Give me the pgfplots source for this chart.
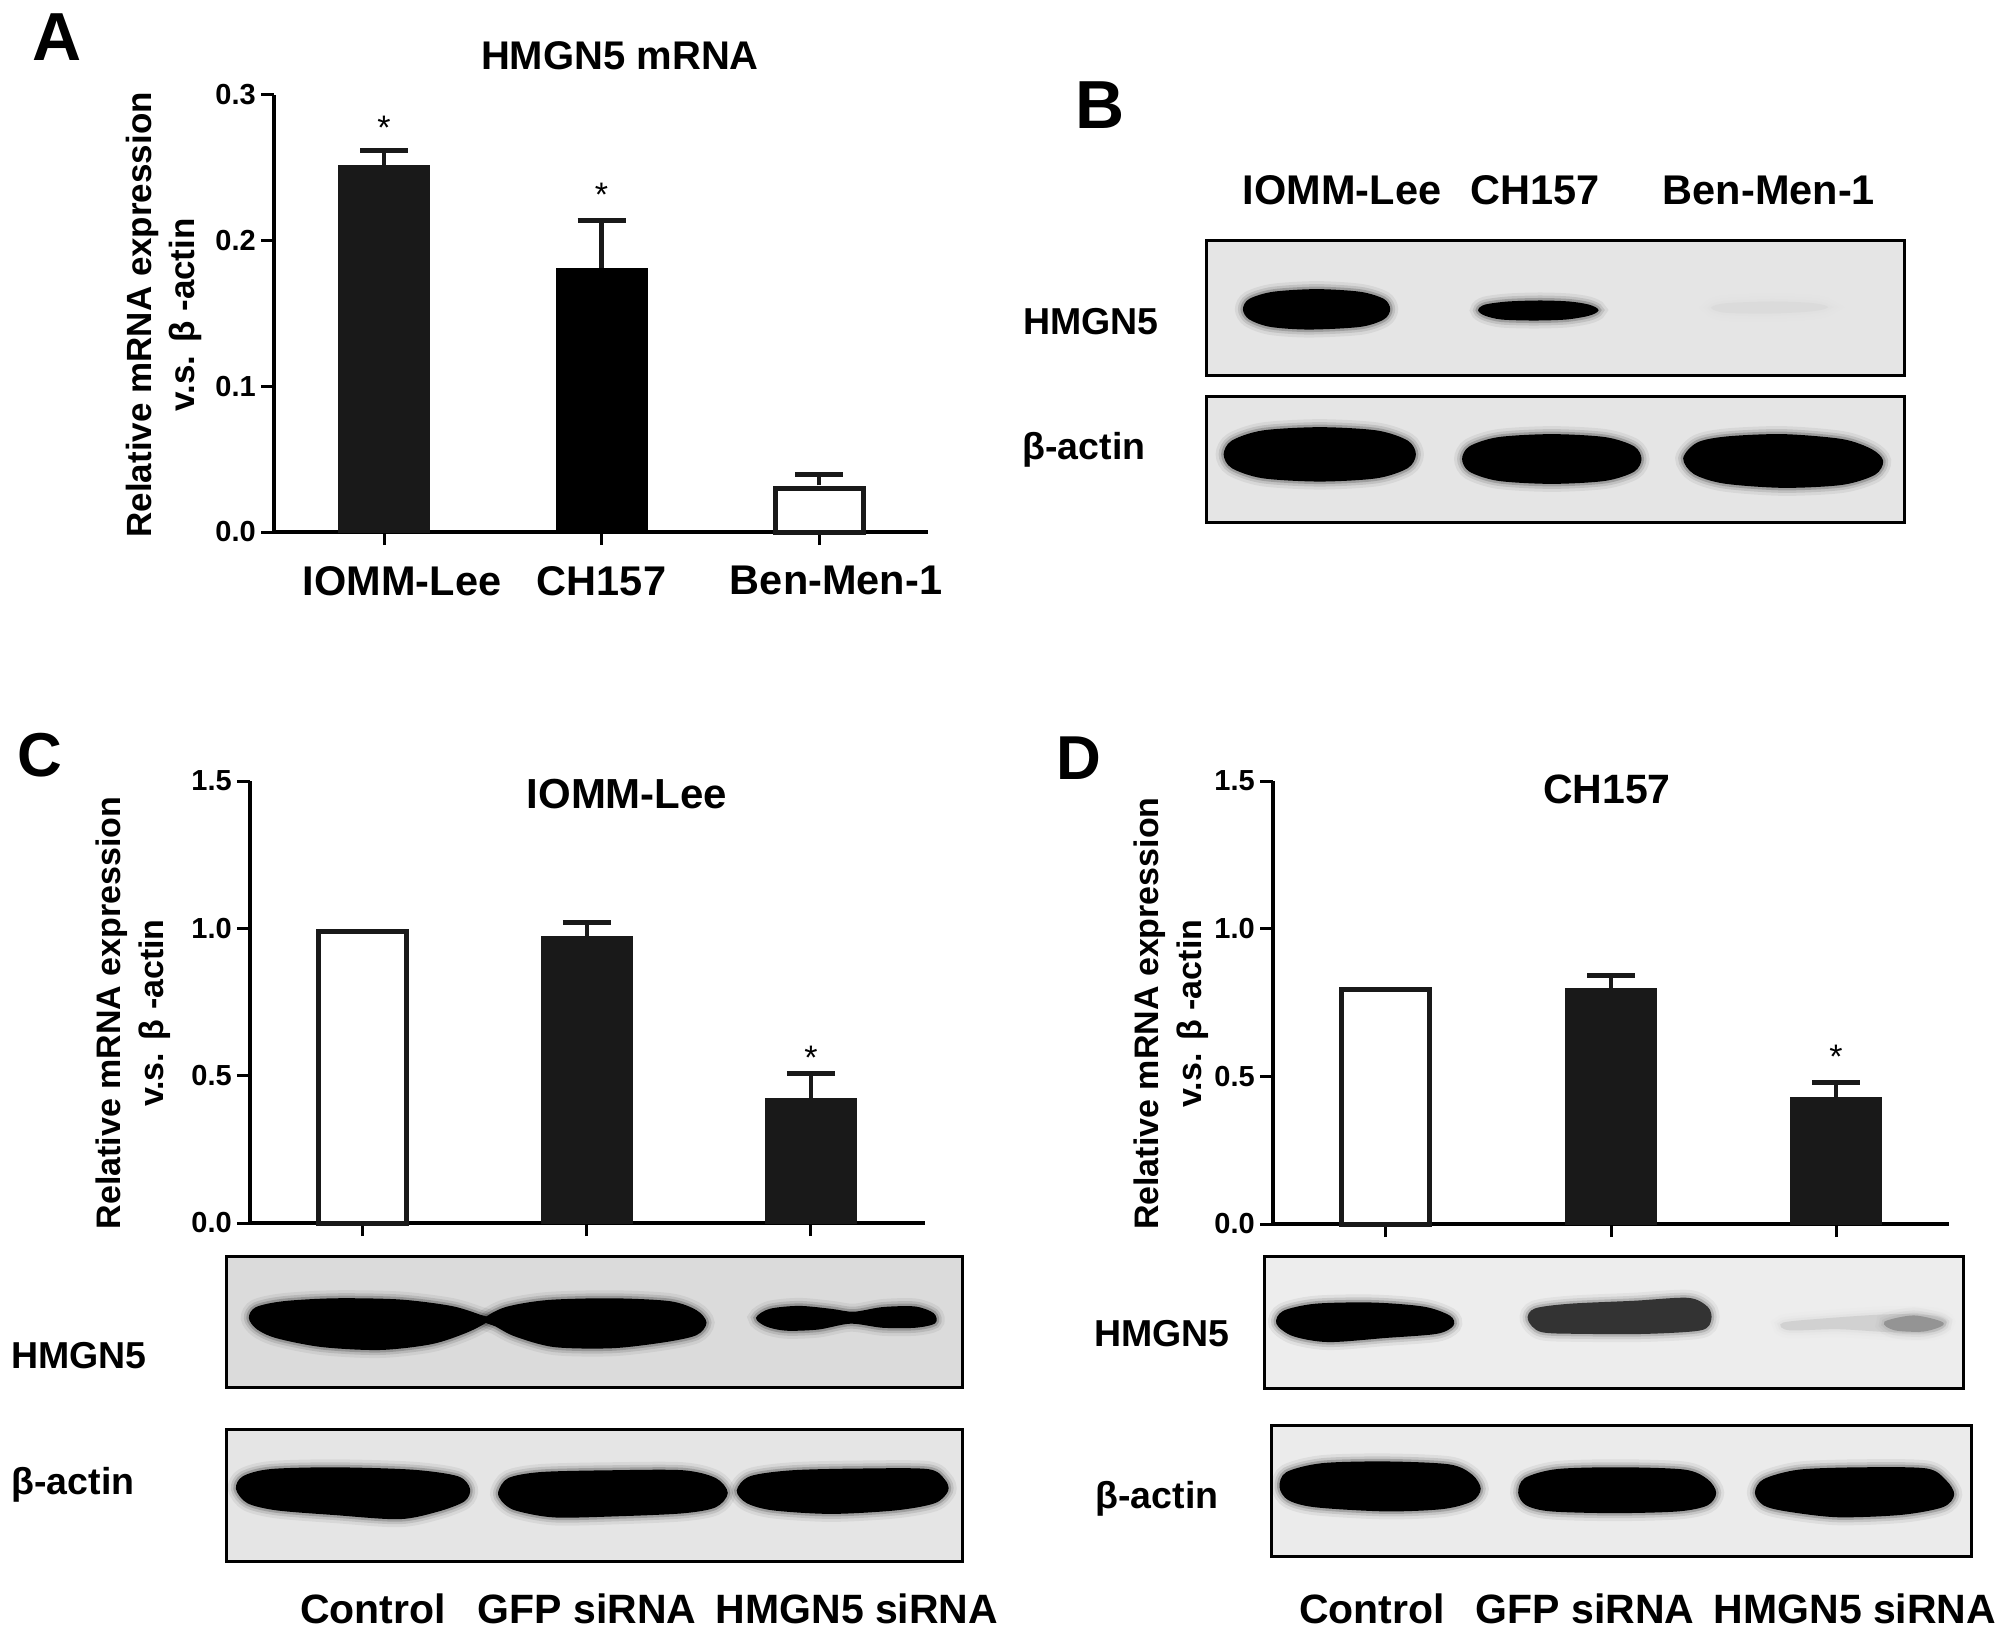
\documentclass[border=0pt]{standalone}
\usepackage{fontspec}
\setmainfont{Liberation Sans}
\usepackage{pgfplots}
\pgfplotsset{compat=1.18}

% bars: value and upper error
\newcommand\fs[1]{\fontsize{#1}{#1}\selectfont\bfseries}
\newcommand\barblack[3]{\addplot[ybar,bar width=91pt,bar shift=0pt,draw=#3,fill=#3,line width=1pt,
  error bars/.cd,y dir=plus,y explicit,error bar style={line width=4.5pt,black!90},
  error mark options={rotate=90,mark size=24pt,line width=5pt,black!90}] coordinates {#1 +- (0,#2)};}
\newcommand\barwhite[1]{\addplot[ybar,bar width=88pt,bar shift=0pt,draw=black!90,fill=white,line width=5pt] coordinates {#1};}
% western blot band with a soft edge
\newcommand\band[2][black]{%
  \addplot[smooth cycle,no markers,draw=#1,opacity=.06,line width=18pt] coordinates {#2};
  \addplot[smooth cycle,no markers,draw=#1,opacity=.10,line width=12pt] coordinates {#2};
  \addplot[smooth cycle,no markers,draw=#1,opacity=.18,line width=7pt] coordinates {#2};
  \addplot[smooth cycle,no markers,draw=#1,fill=#1,line width=2pt] coordinates {#2};}

\pgfplotsset{
  chart/.style={
    scale only axis,anchor=south west,clip=false,enlargelimits=false,
    axis x line=bottom,axis y line=left,
    axis line style={-,line width=3.5pt,black},
    tick style={black,line width=3pt},major tick length=13pt,tick align=outside,
    xtick={0,1,2},ymin=0,
    /pgf/number format/assume math mode=true,
    /pgf/number format/fixed,/pgf/number format/fixed zerofill,/pgf/number format/precision=1,
    yticklabel style={font=\fs{29},inner sep=0pt,xshift=-5pt},
    xticklabel style={font=\fs{41.5},inner sep=0pt},
  },
  blot/.style={
    scale only axis,anchor=south west,enlargelimits=false,y dir=reverse,
    xtick=\empty,ytick=\empty,axis on top,
    axis line style={line width=3pt,black},
  },
}
\begin{document}
\begin{tikzpicture}[x=1pt,y=-1pt]
\useasboundingbox (0,0) rectangle (2008,1637);

% A
\begin{axis}[chart,at={(274pt,-532pt)},width=654pt,height=437pt,
  axis line style={-,line width=4.5pt,black},
  xmin=-0.506,xmax=2.501,ymax=0.3,ytick={0,0.1,0.2,0.3},
  xticklabels={\hspace*{36pt}IOMM-Lee,CH157,\hspace*{34pt}Ben-Men-1},
  xticklabel style={yshift=-21pt},
  title={HMGN5 mRNA},
  title style={at={(axis description cs:0.529,1.075)},anchor=center,font=\fs{40},inner sep=0pt},
  ylabel={Relative mRNA expression\\v.s. β -actin},
  every axis y label/.style={at={(axis description cs:-0.168,0.497)},rotate=90,anchor=center,align=center,font=\fontsize{35}{43}\selectfont\bfseries,inner sep=0pt},
]
\barblack{(0,0.2513)}{0.0108}{black!90}
\barblack{(1,0.1812)}{0.0327}{black}
\barwhite{(2,0.0300)}
\addplot[ybar,bar width=88pt,bar shift=0pt,draw=none,fill=none,
  error bars/.cd,y dir=plus,y explicit,error bar style={line width=4.5pt,black!90},
  error mark options={rotate=90,mark size=24pt,line width=5pt,black!90}] coordinates {(2,0.0320) +- (0,0.0075)};
\node[font=\fontsize{34}{34}\selectfont,inner sep=0pt] at (axis cs:0,0.2776) {*};
\node[font=\fontsize{34}{34}\selectfont,inner sep=0pt] at (axis cs:1,0.2318) {*};
\end{axis}

% B
\begin{axis}[blot,at={(1206pt,-375pt)},width=698pt,height=135pt,
  xmin=320,xmax=1406,ymin=541,ymax=945,axis background/.style={fill=black!10}]
\band{(605,748)(596,776)(560,798)(480,806)(420,798)(388,776)(379,748)(388,720)(424,699)(492,691)(560,699)(596,720)}
\band{(929,751)(915,765)(880,776)(830,779)(780,776)(755,765)(745,751)(755,737)(790,728)(840,725)(885,728)(915,737)}
\band[black!14]{(1285,742)(1260,752)(1200,758)(1130,756)(1108,744)(1130,733)(1200,728)(1260,732)}
\end{axis}
\begin{axis}[blot,at={(1206pt,-522pt)},width=698pt,height=126pt,
  xmin=320,xmax=1406,ymin=1007,ymax=1387,axis background/.style={fill=black!10}]
\band{(645,1183)(633,1222)(586,1252)(497,1262)(408,1252)(361,1222)(349,1183)(361,1144)(408,1114)(497,1104)(586,1114)(633,1144)}
\band{(996,1197)(985,1233)(941,1260)(858,1269)(775,1260)(731,1233)(720,1197)(731,1161)(775,1134)(858,1125)(941,1134)(985,1161)}
\band{(1372,1203)(1360,1242)(1310,1272)(1218,1281)(1126,1268)(1080,1240)(1064,1195)(1085,1150)(1130,1132)(1218,1125)(1310,1140)(1355,1170)}
\end{axis}

% C
\begin{axis}[chart,at={(250pt,-1223pt)},width=675pt,height=442pt,
  xmin=-0.504,xmax=2.509,ymax=1.5,ytick={0,0.5,1,1.5},xticklabels={},
  title={IOMM-Lee},
  title style={at={(axis description cs:0.5585,0.958)},anchor=center,font=\fs{42},inner sep=0pt},
  ylabel={Relative mRNA expression\\v.s. β -actin},
  every axis y label/.style={at={(axis description cs:-0.173,0.475)},rotate=90,anchor=center,align=center,font=\fontsize{34}{43}\selectfont\bfseries,inner sep=0pt},
]
\barwhite{(0,0.99)}
\barblack{(1,0.9735)}{0.0455}{black!90}
\barblack{(2,0.4210)}{0.0876}{black!90}
\node[font=\fontsize{34}{34}\selectfont,inner sep=0pt] at (axis cs:2,0.56) {*};
\end{axis}
\begin{axis}[blot,at={(226pt,-1387pt)},width=736pt,height=131pt,
  xmin=351,xmax=1493,ymin=916,ymax=1140,axis background/.style={fill=black!14}]
\band{(388,1022)(398,1005)(440,995)(520,990)(620,992)(700,1003)(745,1018)(758,1025)(725,1045)(670,1065)(590,1075)(500,1070)(430,1055)(400,1040)}
\band{(752,1025)(785,1005)(850,993)(950,990)(1040,995)(1080,1010)(1095,1030)(1080,1050)(1030,1062)(950,1072)(860,1070)(800,1052)(770,1035)}
\band{(1175,1022)(1195,1008)(1240,1003)(1290,1008)(1325,1013)(1370,1005)(1420,1004)(1448,1015)(1450,1030)(1420,1037)(1370,1037)(1320,1030)(1270,1040)(1220,1042)(1190,1035)}
\end{axis}
\begin{axis}[blot,at={(226pt,-1561pt)},width=736pt,height=132pt,
  xmin=351,xmax=1493,ymin=1213,ymax=1438,axis background/.style={fill=black!10}]
\band{(368,1315)(378,1295)(420,1283)(520,1280)(640,1284)(710,1295)(728,1315)(720,1335)(680,1352)(620,1365)(520,1358)(430,1350)(385,1338)}
\band{(775,1320)(790,1298)(840,1288)(950,1285)(1060,1285)(1110,1298)(1128,1322)(1110,1345)(1060,1355)(960,1360)(860,1362)(800,1350)(780,1335)}
\band{(1145,1318)(1165,1295)(1230,1285)(1340,1282)(1440,1283)(1465,1300)(1470,1318)(1450,1338)(1390,1350)(1290,1356)(1200,1350)(1160,1338)}
\end{axis}

% D
\begin{axis}[chart,at={(1273pt,-1224pt)},width=676pt,height=443pt,
  xmin=-0.502,xmax=2.502,ymax=1.5,ytick={0,0.5,1,1.5},xticklabels={},
  title={CH157},
  title style={at={(axis description cs:0.494,0.967)},anchor=center,font=\fs{41},inner sep=0pt},
  ylabel={Relative mRNA expression\\v.s. β -actin},
  every axis y label/.style={at={(axis description cs:-0.151,0.475)},rotate=90,anchor=center,align=center,font=\fontsize{34}{43}\selectfont\bfseries,inner sep=0pt},
]
\barwhite{(0,0.795)}
\barblack{(1,0.7966)}{0.0434}{black!90}
\barblack{(2,0.4300)}{0.0475}{black!90}
\node[font=\fontsize{34}{34}\selectfont,inner sep=0pt] at (axis cs:2,0.565) {*};
\end{axis}
\begin{axis}[blot,at={(1264pt,-1388pt)},width=699pt,height=132pt,
  xmin=399,xmax=1497,ymin=917,ymax=1142,axis background/.style={fill=black!7}]
\band{(420,1032)(430,1012)(480,1000)(570,998)(650,1005)(690,1020)(695,1035)(670,1048)(590,1055)(500,1062)(445,1052)}
\band[black!80]{(815,1025)(825,1008)(880,1000)(980,995)(1065,990)(1095,1005)(1100,1025)(1085,1042)(1000,1048)(900,1048)(835,1045)}
\band[black!18]{(1215,1032)(1280,1025)(1380,1018)(1450,1020)(1470,1030)(1450,1045)(1380,1045)(1300,1040)(1225,1042)}
\band[black!42]{(1375,1030)(1420,1020)(1465,1032)(1435,1044)(1390,1042)}
\end{axis}
\begin{axis}[blot,at={(1271pt,-1556pt)},width=700pt,height=131pt,
  xmin=410,xmax=1510,ymin=1206,ymax=1430,axis background/.style={fill=black!8}]
\band{(425,1312)(435,1288)(490,1273)(590,1270)(690,1275)(725,1292)(738,1315)(725,1335)(680,1348)(590,1352)(480,1345)(438,1333)}
\band{(800,1322)(810,1298)(860,1283)(960,1280)(1060,1284)(1095,1300)(1108,1322)(1095,1342)(1050,1352)(950,1355)(850,1352)(812,1342)}
\band{(1172,1322)(1185,1300)(1240,1284)(1340,1280)(1440,1282)(1470,1302)(1482,1325)(1465,1345)(1400,1358)(1300,1362)(1220,1352)(1185,1342)}
\end{axis}

% panel letters
\node[font=\fs{68},inner sep=0pt] at (57,37) {A};
\node[font=\fs{68},inner sep=0pt] at (1100,105) {B};
\node[font=\fs{62},inner sep=0pt] at (40,755) {C};
\node[font=\fs{62},inner sep=0pt] at (1079,758) {D};

% blot labels
\node[font=\fs{41.5},inner sep=0pt] at (1342,190) {IOMM-Lee};
\node[font=\fs{41.5},inner sep=0pt] at (1535,190) {CH157};
\node[font=\fs{41.5},inner sep=0pt] at (1769,190) {Ben-Men-1};
\node[font=\fs{37.5},inner sep=0pt] at (1091,322) {HMGN5};
\node[font=\fs{37.5},inner sep=0pt] at (1084,450) {β-actin};
\node[font=\fs{37.5},inner sep=0pt] at (79,1356) {HMGN5};
\node[font=\fs{37.5},inner sep=0pt] at (73,1485) {β-actin};
\node[font=\fs{37.5},inner sep=0pt] at (1162,1334) {HMGN5};
\node[font=\fs{37.5},inner sep=0pt] at (1157,1499) {β-actin};
\node[font=\fs{41},inner sep=0pt] at (373,1609) {Control};
\node[font=\fs{41},inner sep=0pt] at (587,1609) {GFP siRNA};
\node[font=\fs{41},inner sep=0pt] at (857,1609) {HMGN5 siRNA};
\node[font=\fs{41},inner sep=0pt] at (1372,1609) {Control};
\node[font=\fs{41},inner sep=0pt] at (1585,1609) {GFP siRNA};
\node[font=\fs{41},inner sep=0pt] at (1855,1609) {HMGN5 siRNA};
\end{tikzpicture}
\end{document}
